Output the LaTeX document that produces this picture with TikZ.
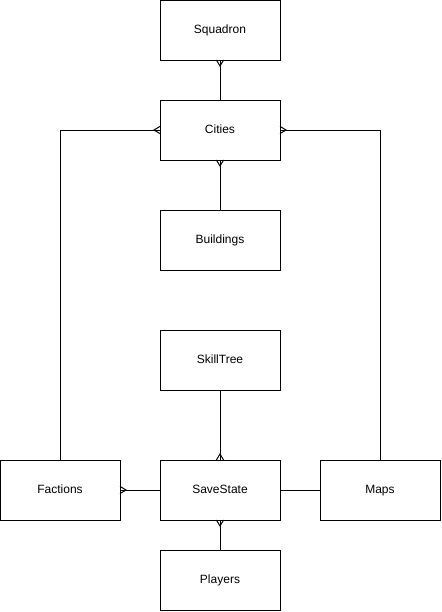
\documentclass[tikz,border=0pt]{standalone}
\usepackage{fontspec}
\setmainfont{Liberation Sans}
\usetikzlibrary{positioning,arrows.meta}

\pgfdeclarearrow{
  name = crow,
  setup code = {
    \pgfarrowssettipend{0pt}
    \pgfarrowssetlineend{0pt}
    \pgfarrowssetbackend{-4.5pt}
    \pgfarrowshullpoint{0pt}{2.7pt}
    \pgfarrowshullpoint{0pt}{-2.7pt}
    \pgfarrowshullpoint{-4.5pt}{0pt}
    \pgfarrowssavethe\pgfarrowlength
  },
  drawing code = {
    \pgfpathmoveto{\pgfpoint{0pt}{2.7pt}}
    \pgfpathlineto{\pgfpoint{-4.5pt}{0pt}}
    \pgfpathlineto{\pgfpoint{0pt}{-2.7pt}}
    \pgfusepathqstroke
  }
}

\begin{document}
\begin{tikzpicture}[x=0.75pt, y=-0.75pt, line width=0.75pt,
  entity/.style={draw, rectangle, minimum width=90pt, minimum height=45pt,
    inner sep=0pt, outer sep=0pt, text height=6.6pt, text depth=1.4pt,
    font=\fontsize{9}{11}\selectfont}]
      \useasboundingbox (0,0) rectangle (442,612);
      \node [entity] (squadron) at (220,30) {Squadron};
      \node [entity] (cities) [below=30pt of squadron] {Cities};
      \node [entity] (buildings) [below=37.5pt of cities] {Buildings};
      \node [entity] (skilltree) [below=45pt of buildings] {SkillTree};
      \node [entity] (savestate) [below=52.5pt of skilltree] {SaveState};
      \node [entity] (factions) [left=30pt of savestate] {Factions};
      \node [entity] (maps) [right=30pt of savestate] {Maps};
      \node [entity] (players) [below=22.5pt of savestate] {Players};
      \draw [-crow] (cities) -- (squadron);
      \draw [-crow] (buildings) -- (cities);
      \draw [-crow] (factions.north) |- (cities.west);
      \draw [-crow] (maps.north) |- (cities.east);
      \draw [-crow] (skilltree) -- (savestate);
      \draw [-crow] (savestate) -- (factions);
      \draw (savestate) -- (maps);
      \draw [-crow] (players) -- (savestate);
\end{tikzpicture}
\end{document}
